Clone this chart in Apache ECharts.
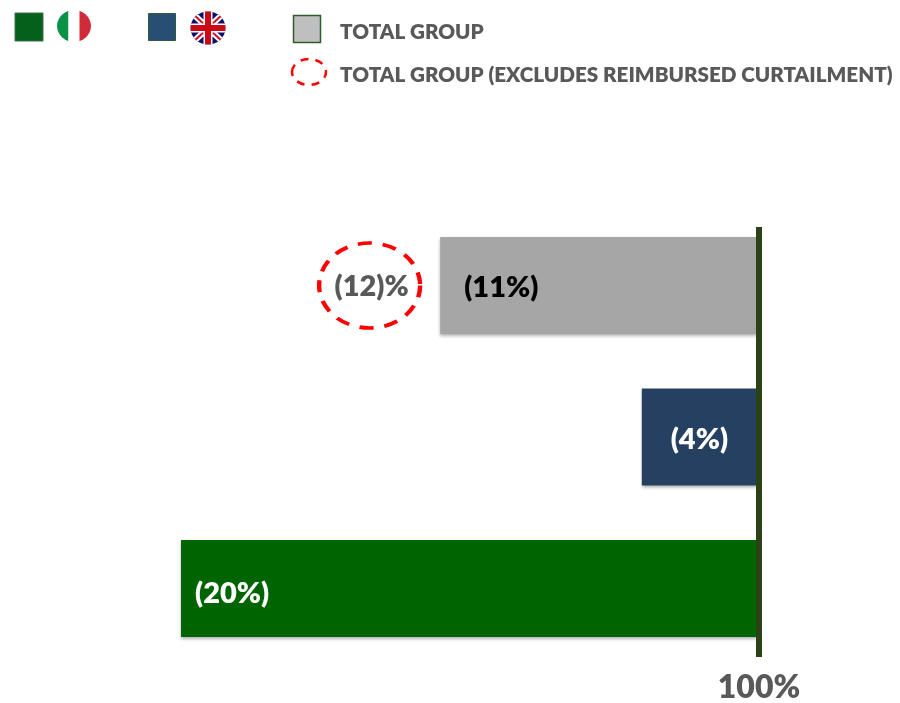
<!DOCTYPE html>
<html>
<head>
<meta charset="utf-8">
<style>html,body{margin:0;padding:0;background:#fff}#chart{width:900px;height:703px}</style>
<script src="https://cdn.jsdelivr.net/npm/echarts@6/dist/echarts.min.js"></script>
</head>
<body>
<div id="chart"></div>
<script>
// Reductions against a 100% baseline, by group
const categories = ['TOTAL GROUP', 'UK', 'ITALY'];
const reductions = [11, 4, 20];
const barColors = ['#a6a6a6', '#264061', '#006400'];
const labelColors = ['#000000', '#ffffff', '#ffffff'];
const barLabels = ['(11%)', '(4%)', '(20%)'];
const baselineLabel = '100%';
const excludedLabel = '(12)%';
const excludedPosition = 13.45;
const legendTotal = 'TOTAL GROUP';
const legendExcluded = 'TOTAL GROUP (EXCLUDES REIMBURSED CURTAILMENT)';

const FONT = 'Lato, "Open Sans", sans-serif';
const GREY_TEXT = '#595959';

const italyFlag = 'data:image/svg+xml;utf8,' + encodeURIComponent(
  '<svg xmlns="http://www.w3.org/2000/svg" viewBox="0 0 34 32"><defs><clipPath id="c"><ellipse cx="17" cy="16" rx="17" ry="16"/></clipPath></defs>' +
  '<g clip-path="url(#c)"><rect width="11.5" height="32" fill="#0a9248"/><rect x="11.5" width="11" height="32" fill="#fff"/><rect x="22.5" width="11.5" height="32" fill="#d02b37"/></g></svg>');

const ukFlag = 'data:image/svg+xml;utf8,' + encodeURIComponent(
  '<svg xmlns="http://www.w3.org/2000/svg" viewBox="0 0 36 34"><defs><clipPath id="c"><ellipse cx="18" cy="17" rx="17.5" ry="16.5"/></clipPath></defs>' +
  '<g clip-path="url(#c)"><rect width="36" height="34" fill="#0a0f6e"/>' +
  '<path d="M0 0L36 34M36 0L0 34" stroke="#fff" stroke-width="6"/>' +
  '<path d="M0 0L36 34M36 0L0 34" stroke="#cf142b" stroke-width="2"/>' +
  '<path d="M18 0V34M0 17H36" stroke="#fff" stroke-width="9"/>' +
  '<path d="M18 0V34M0 17H36" stroke="#cc0a14" stroke-width="6"/></g></svg>');

const chart = echarts.init(document.getElementById('chart'), null, { renderer: 'canvas' });

// Per-bar label anchors, kept inside their bars
const labelPlacement = [
  { position: [24, 51], align: 'left' },
  { position: 'inside', align: 'center', offset: [0, 3] },
  { position: [14, 54], align: 'left' }
];

chart.setOption({
  animation: false,
  backgroundColor: '#ffffff',
  grid: [
    { left: 181, width: 576, top: 209.75, height: 454.5, outerBoundsMode: 'none' },
    { left: 700, width: 59, top: 227, height: 430, outerBoundsMode: 'none' }
  ],
  xAxis: [
    {
      gridIndex: 0, type: 'value', inverse: true, min: 0, max: 20, interval: 20,
      axisLine: { show: false }, axisTick: { show: false }, splitLine: { show: false },
      axisLabel: {
        margin: 7, fontFamily: FONT, fontWeight: 800, fontSize: 32, color: GREY_TEXT,
        padding: [0, 0, 0, 4],
        formatter: v => (v === 0 ? baselineLabel : '')
      }
    },
    { gridIndex: 1, type: 'value', show: false, min: 0, max: 1 }
  ],
  yAxis: [
    {
      gridIndex: 0, type: 'category', inverse: true, data: categories,
      axisLine: { show: false }, axisTick: { show: false }, axisLabel: { show: false }
    },
    {
      gridIndex: 1, type: 'category', position: 'right', data: categories,
      axisTick: { show: false }, axisLabel: { show: false }, z: 10,
      axisLine: { show: true, onZero: false, lineStyle: { color: '#2b4216', width: 6, cap: 'butt' } }
    }
  ],
  series: [
    {
      type: 'bar', xAxisIndex: 0, yAxisIndex: 0, barWidth: 97,
      data: reductions.map((v, i) => ({
        value: v,
        itemStyle: { color: barColors[i], shadowColor: 'rgba(0,0,0,0.3)', shadowBlur: 3, shadowOffsetY: 2 },
        label: Object.assign({
          show: true,
          verticalAlign: 'middle',
          formatter: barLabels[i],
          fontFamily: FONT, fontWeight: 800, fontSize: 29,
          color: labelColors[i]
        }, labelPlacement[i])
      }))
    },
    {
      type: 'scatter', xAxisIndex: 0, yAxisIndex: 0, z: 5,
      symbol: 'circle', symbolSize: [101, 85],
      itemStyle: { opacity: 1, color: 'rgba(255,255,255,0)', borderColor: '#ff0000', borderWidth: 4, borderType: [13, 10] },
      label: {
        show: true, position: 'inside', formatter: excludedLabel, offset: [2, 1],
        fontFamily: FONT, fontWeight: 800, fontSize: 29, color: GREY_TEXT
      },
      data: [[excludedPosition, categories[0]]]
    }
  ],
  graphic: [
    { type: 'rect', shape: { x: 15, y: 13, width: 28, height: 28 }, style: { fill: '#05601b', stroke: '#3f6f45', lineWidth: 1 } },
    { type: 'image', style: { image: italyFlag, x: 57, y: 10, width: 34, height: 32 } },
    { type: 'rect', shape: { x: 148.5, y: 13.5, width: 27, height: 27 }, style: { fill: '#264f73', stroke: '#2f5c3a', lineWidth: 1 } },
    { type: 'image', style: { image: ukFlag, x: 190, y: 11, width: 36, height: 34 } },
    { type: 'rect', shape: { x: 293.5, y: 15.5, width: 27, height: 27 }, style: { fill: '#bfbfbf', stroke: '#2f5c2f', lineWidth: 1.5 } },
    { type: 'ellipse', shape: { cx: 309, cy: 72, rx: 17, ry: 13 }, style: { fill: 'none', stroke: '#ff0000', lineWidth: 2.5, lineDash: [8, 7] } },
    { type: 'text', style: { x: 340, y: 32, text: legendTotal, fontFamily: FONT, fontWeight: 800, fontSize: 20.65, fill: GREY_TEXT, verticalAlign: 'middle' } },
    { type: 'text', style: { x: 340, y: 75, text: legendExcluded, fontFamily: FONT, fontWeight: 800, fontSize: 20.65, fill: GREY_TEXT, verticalAlign: 'middle' } }
  ]
});
</script>
</body>
</html>
